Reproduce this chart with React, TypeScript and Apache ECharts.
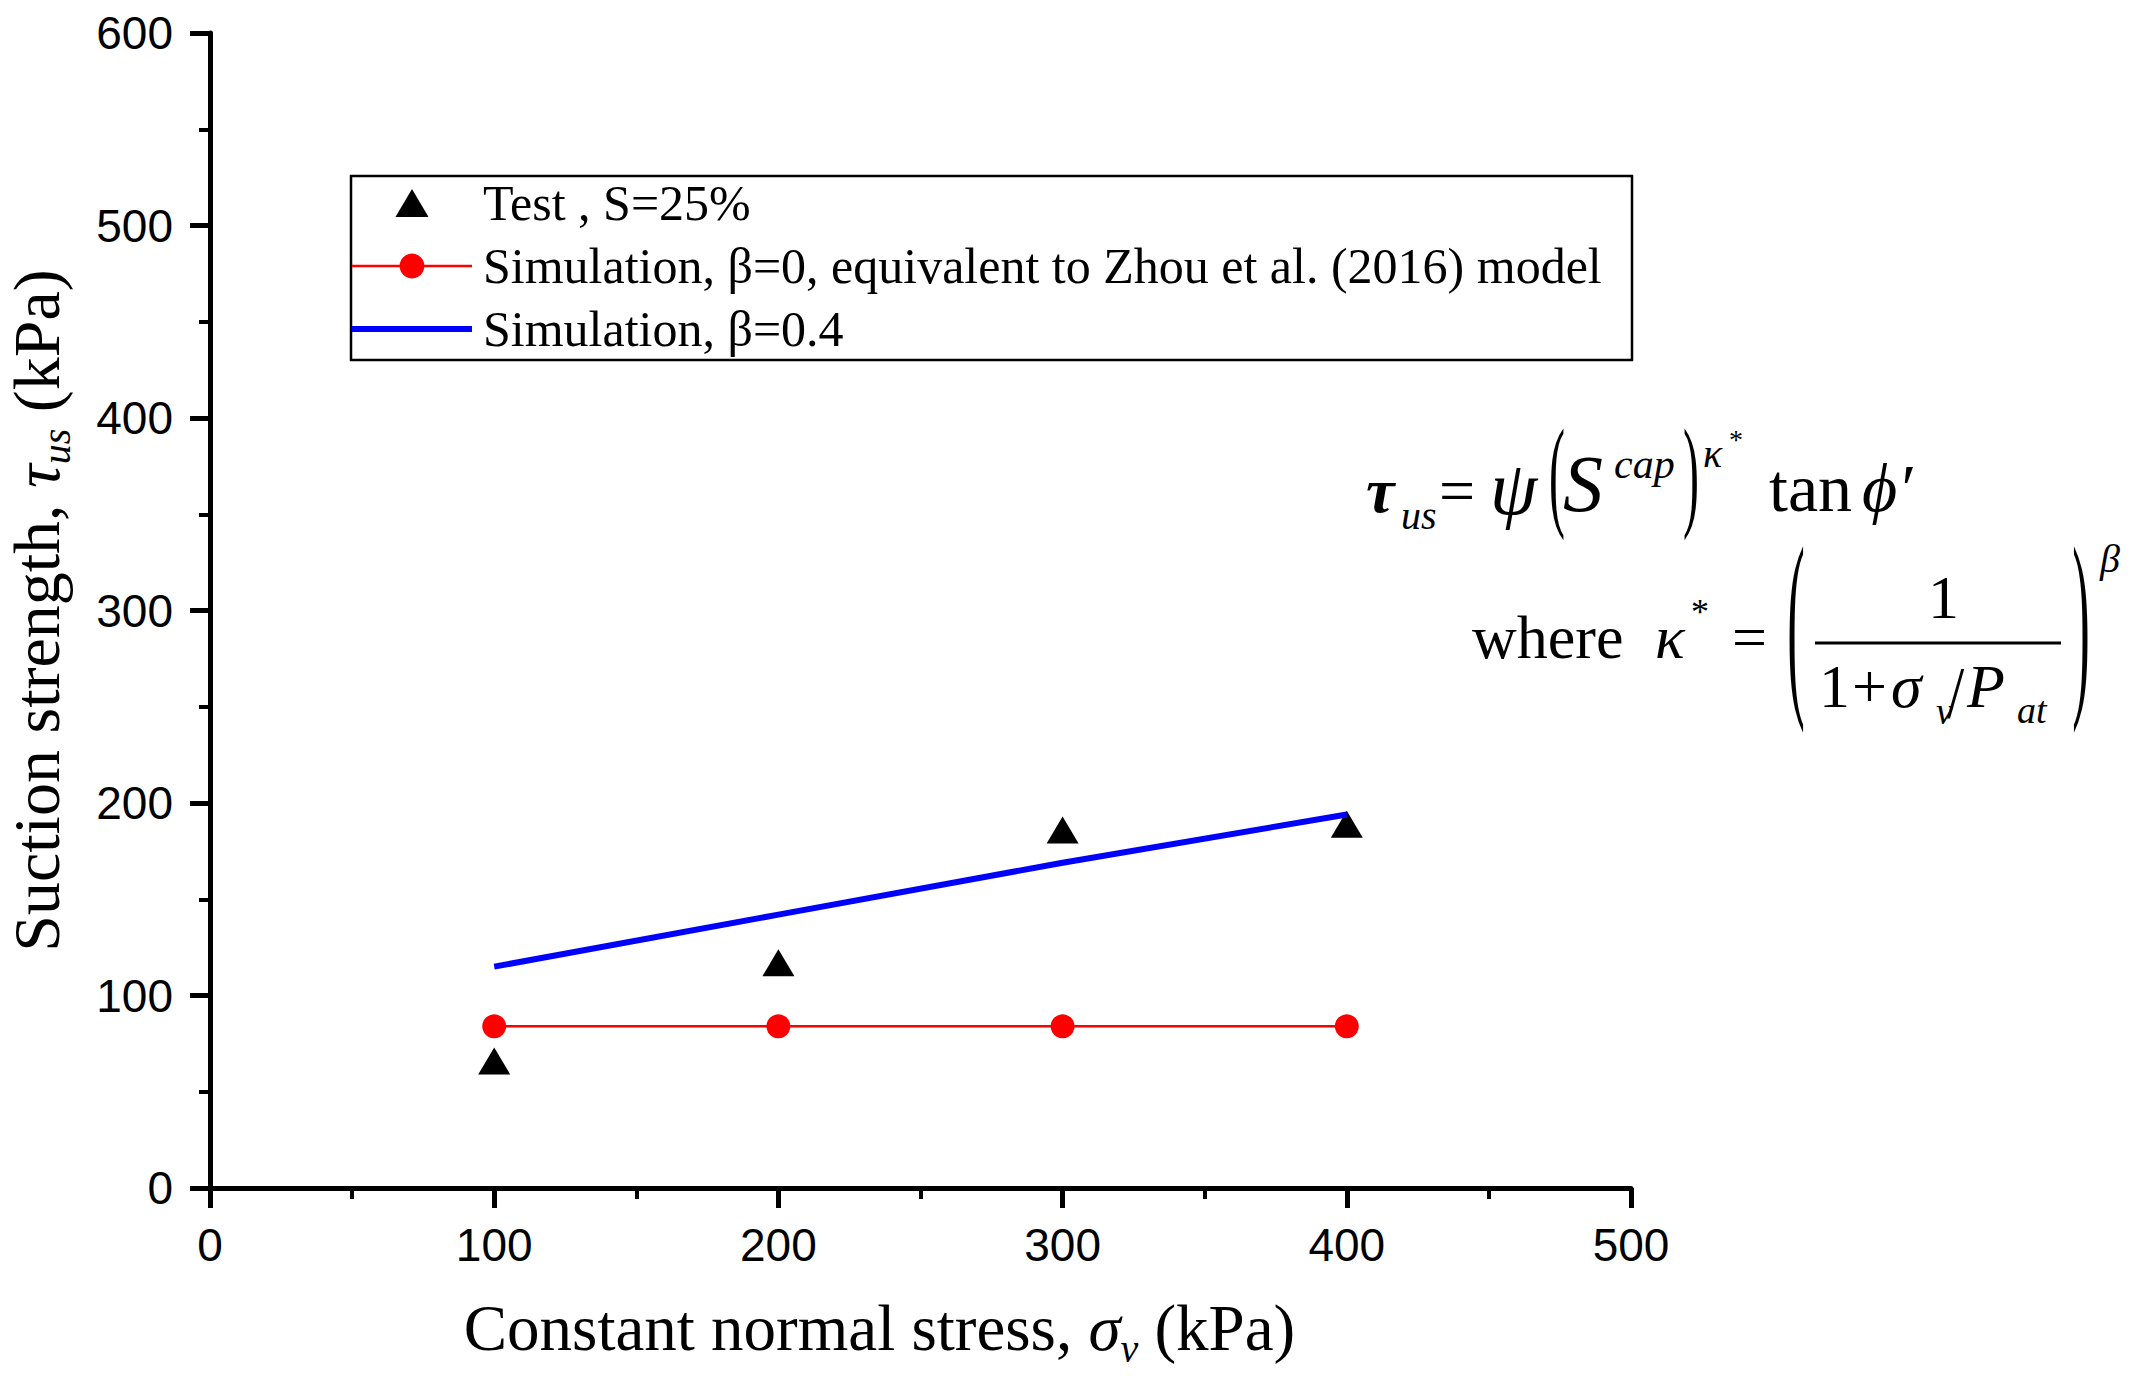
import React, { useEffect, useRef } from "react";
import * as echarts from "echarts";

// ---- data ----
const stressValues = [100, 200, 300, 400];
const testStrength = [66, 117, 186, 189];
const simBeta0 = [84, 84, 84, 84];
const simBeta04 = [115, 142, 169, 194];
const xTickMax = 500;
const yTickMax = 600;
const legendNames = [
  "Test , S=25%",
  "Simulation, β=0, equivalent to Zhou et al. (2016) model",
  "Simulation, β=0.4",
];

const SERIF = "'Liberation Serif', 'Times New Roman', 'DejaVu Serif', serif";
const SANS = "'Liberation Sans Narrow', 'Arial Narrow', 'Liberation Sans', Arial, sans-serif";

type TOpt = { italic?: boolean; bold?: boolean; sx?: number; sy?: number; center?: boolean };

function tx(text: string, x: number, baseline: number, size: number, o: TOpt = {}) {
  return {
    type: "text",
    x,
    y: baseline - 0.34 * size,
    scaleX: o.sx ?? 1,
    scaleY: o.sy ?? 1,
    silent: true,
    style: {
      text,
      x: 0,
      y: 0,
      fontFamily: SERIF,
      fontSize: size,
      fontStyle: o.italic ? "italic" : "normal",
      fontWeight: o.bold ? "bold" : "normal",
      fill: "#000",
      align: o.center ? "center" : "left",
      textAlign: o.center ? "center" : "left",
      verticalAlign: "middle",
      textVerticalAlign: "middle",
    },
  };
}

function paren(ch: string, cx: number, cy: number, size: number, sy: number, sx = 1, k = 0.1) {
  return {
    type: "text",
    x: cx,
    y: cy - k * size * sy,
    scaleX: sx,
    scaleY: sy,
    silent: true,
    style: {
      text: ch,
      x: 0,
      y: 0,
      fontFamily: SERIF,
      fontSize: size,
      fill: "#000",
      align: "center",
      textAlign: "center",
      verticalAlign: "middle",
      textVerticalAlign: "middle",
    },
  };
}

export default function App() {
  const ref = useRef<HTMLDivElement>(null);

  useEffect(() => {
    document.body.style.margin = "0";
    document.body.style.overflow = "hidden";
    if (!ref.current) return;
    const chart = echarts.init(ref.current, undefined, { renderer: "svg" });

    const axisCommon = {
      type: "value",
      axisLine: { show: true, onZero: false, lineStyle: { color: "#000", width: 5 } },
      axisTick: { show: true, inside: false, length: 20, lineStyle: { color: "#000", width: 5 } },
      minorTick: { show: true, splitNumber: 2, length: 11, lineStyle: { color: "#000", width: 4 } },
      splitLine: { show: false },
      minorSplitLine: { show: false },
    };

    const subRich = {
      t: { fontFamily: SERIF, fontSize: 65, fontStyle: "italic", color: "#000", lineHeight: 80 },
      s: { fontFamily: SERIF, fontSize: 40, fontStyle: "italic", color: "#000", lineHeight: 40, verticalAlign: "bottom" },
    };

    const option: any = {
      animation: false,
      backgroundColor: "#ffffff",
      grid: { left: 210, right: 505, top: 33, bottom: 194, containLabel: false, outerBoundsMode: "none" },
      xAxis: {
        ...axisCommon,
        min: 0,
        max: xTickMax,
        interval: 100,
        axisLabel: { color: "#000", fontFamily: SANS, fontSize: 46, margin: 34 },
        name: "Constant normal stress, {t|σ}{s|v} (kPa)",
        nameLocation: "middle",
        nameGap: 100,
        nameTextStyle: {
          color: "#000",
          fontFamily: SERIF,
          fontSize: 65,
          lineHeight: 80,
          padding: [0, 82, 0, 0],
          rich: subRich,
        },
      },
      yAxis: {
        ...axisCommon,
        min: 0,
        max: yTickMax,
        interval: 100,
        axisLabel: { color: "#000", fontFamily: SANS, fontSize: 46, margin: 37 },
        name: "Suction strength, {t|τ}{s|us} (kPa)",
        nameLocation: "middle",
        nameRotate: 90,
        nameGap: 134,
        nameTextStyle: {
          color: "#000",
          fontFamily: SERIF,
          fontSize: 66,
          lineHeight: 80,
          rich: {
            t: { ...subRich.t, fontSize: 66 },
            s: subRich.s,
          },
        },
      },
      legend: {
        orient: "vertical",
        left: 349,
        top: 178,
        padding: 0,
        itemWidth: 120,
        itemHeight: 31,
        itemGap: 13,
        selectedMode: false,
        symbolKeepAspect: true,
        textStyle: { color: "#000", fontFamily: SERIF, fontSize: 50, lineHeight: 50, padding: [0, 0, 0, 6] },
        data: [
          {
            name: legendNames[0],
            icon: "path://M0,0M32,30M0,28.5L16,1.5L32,28.5Z",
            itemStyle: { color: "#000", opacity: 1 },
          },
          { name: legendNames[1], lineStyle: { width: 2.5, color: "#ff0000" } },
          { name: legendNames[2], itemStyle: { opacity: 0 }, lineStyle: { width: 6, color: "#0000ff" } },
        ],
      },
      series: [
        {
          name: legendNames[2],
          type: "line",
          data: stressValues.map((x, i) => [x, simBeta04[i]]),
          symbol: "none",
          color: "#0000ff",
          lineStyle: { color: "#0000ff", width: 6 },
          z: 2,
        },
        {
          name: legendNames[1],
          type: "line",
          data: stressValues.map((x, i) => [x, simBeta0[i]]),
          symbol: "circle",
          symbolSize: 24,
          showSymbol: true,
          color: "#ff0000",
          itemStyle: { color: "#ff0000" },
          lineStyle: { color: "#ff0000", width: 2.5 },
          z: 3,
        },
        {
          name: legendNames[0],
          type: "scatter",
          data: stressValues.map((x, i) => [x, testStrength[i]]),
          symbol: "triangle",
          symbolSize: [32, 27],
          color: "#000000",
          itemStyle: { color: "#000000", opacity: 1 },
          z: 1,
        },
      ],
      graphic: [
        // legend frame
        {
          type: "rect",
          shape: { x: 351, y: 176, width: 1281, height: 184 },
          style: { fill: "none", stroke: "#000", lineWidth: 2.5 },
          silent: true,
          z: 0,
        },
        // equation, first line
        tx("τ", 1366, 512, 64, { italic: true, bold: true }),
        tx("us", 1401, 529, 40, { italic: true }),
        tx("=", 1439, 512, 64),
        tx("ψ", 1490, 514, 76, { italic: true }),
        paren("(", 1557, 485, 60, 2.05, 0.8),
        tx("S", 1563, 511, 80, { italic: true }),
        tx("cap", 1614, 478, 42, { italic: true }),
        paren(")", 1691, 485, 60, 2.05, 0.8),
        tx("κ", 1703, 467, 40, { italic: true }),
        tx("*", 1729, 449, 28),
        tx("tan", 1769, 511, 68),
        tx("ϕ′", 1862, 511, 68, { italic: true }),
        // equation, second line
        tx("where", 1472, 658, 62),
        tx("κ", 1655, 658, 62, { italic: true }),
        tx("*", 1691, 624, 36),
        tx("=", 1732, 658, 62),
        paren("(", 1796, 640, 62, 3.3, 0.85),
        paren(")", 2081, 640, 62, 3.3, 0.85),
        tx("1", 1928, 618, 62),
        {
          type: "line",
          shape: { x1: 1815, y1: 643, x2: 2061, y2: 643 },
          style: { stroke: "#000", lineWidth: 3 },
          silent: true,
        },
        tx("1", 1819, 707, 62),
        tx("+", 1852, 707, 62),
        tx("σ", 1891, 707, 62, { italic: true }),
        tx("v", 1936, 724, 38, { italic: true }),
        tx("/", 1947, 714, 62, { sy: 1.2 }),
        tx("P", 1967, 707, 62, { italic: true }),
        tx("at", 2017, 723, 38, { italic: true }),
        tx("β", 2100, 572, 40, { italic: true }),
      ],
    };

    chart.setOption(option);
    return () => chart.dispose();
  }, []);

  return <div ref={ref} style={{ width: 2136, height: 1382 }} />;
}
